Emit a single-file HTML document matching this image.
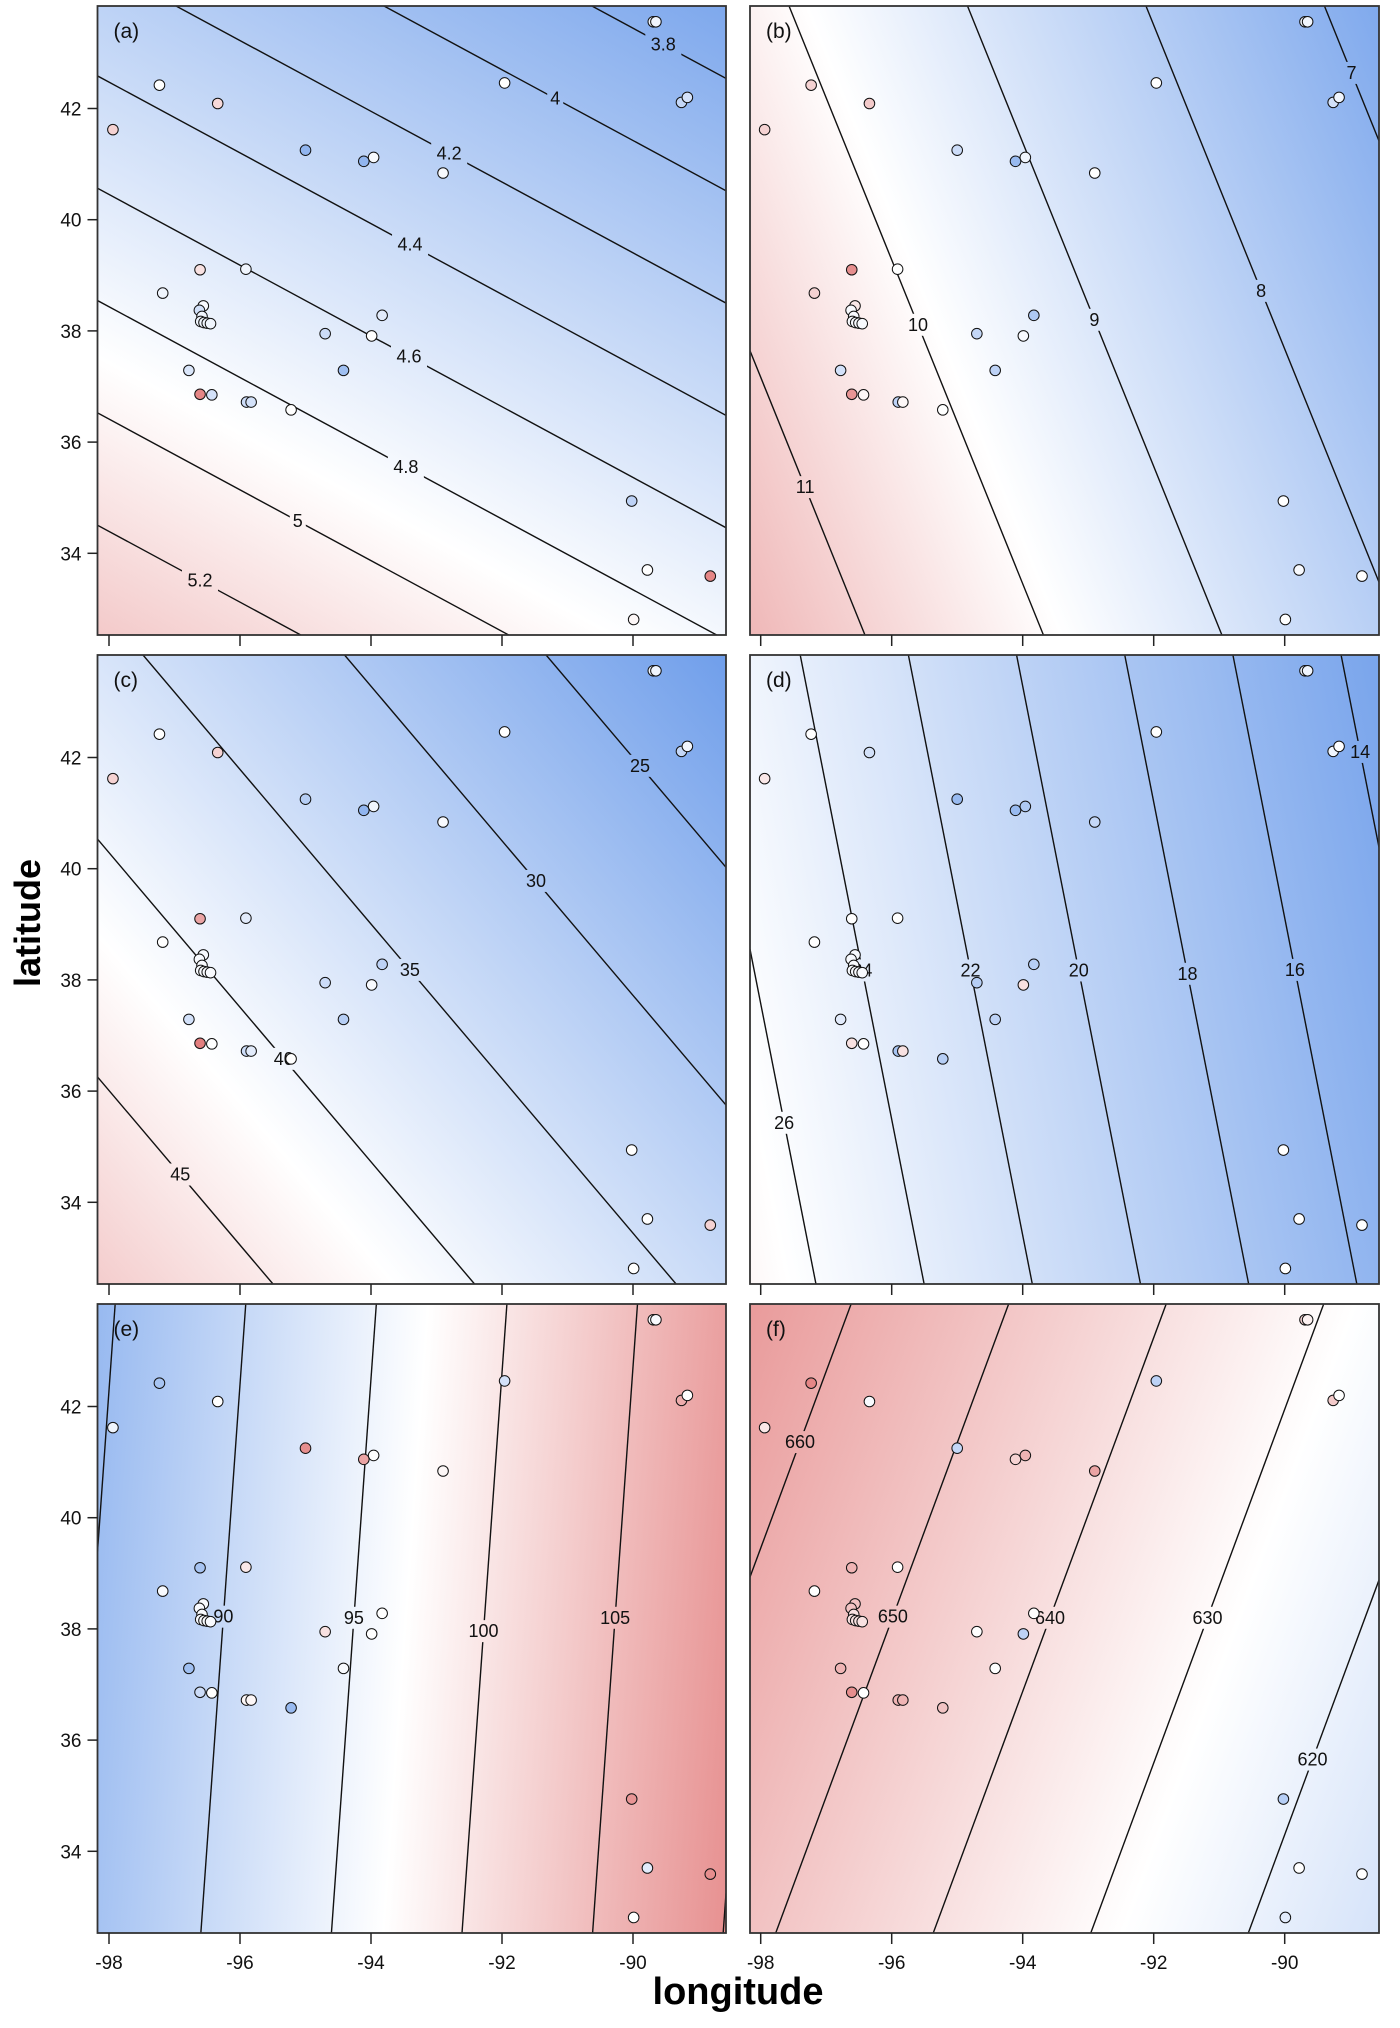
<!DOCTYPE html>
<html><head><meta charset="utf-8"><title>Spatial trend surfaces (a)-(f)</title>
<style>
html,body{margin:0;padding:0;background:#fff;width:1400px;height:2028px;overflow:hidden;}
svg{display:block;font-family:"Liberation Sans",Arial,sans-serif;overflow:hidden;}
</style></head>
<body>
<svg id="chart" width="1400" height="2028" viewBox="0 0 1400 2028" xmlns="http://www.w3.org/2000/svg">
<defs id="defs"></defs>
<g id="root"></g>
<text x="738" y="2004" text-anchor="middle" font-size="38" font-weight="bold">longitude</text>
<text transform="translate(40,923) rotate(-90)" text-anchor="middle" font-size="36" font-weight="bold">latitude</text>
</svg>
<script>
// station locations
const stationLon=[-89.69,-89.65,-97.23,-96.34,-97.94,-95.00,-94.11,-93.96,-92.90,-91.96,-89.26,-89.17,-96.61,-95.91,-97.18,-96.56,-96.62,-96.58,-96.60,-96.55,-96.50,-96.45,-93.83,-94.70,-93.99,-96.78,-94.42,-96.61,-96.43,-95.90,-95.83,-95.22,-90.02,-89.78,-88.82,-89.99];
const stationLat=[43.56,43.56,42.42,42.09,41.62,41.25,41.05,41.12,40.84,42.46,42.11,42.20,39.10,39.11,38.68,38.45,38.37,38.26,38.17,38.15,38.14,38.13,38.28,37.95,37.91,37.29,37.29,36.86,36.85,36.72,36.72,36.58,34.94,33.70,33.59,32.81];
// station tones per panel (-1 blue .. +1 red)
const toneA=[-0.1,-0.1,0,0.25,0.3,-0.75,-0.75,-0.05,-0.05,0,-0.4,-0.3,0.2,-0.1,-0.1,-0.05,-0.3,-0.1,-0.1,-0.1,-0.1,-0.1,-0.2,-0.35,0,-0.25,-0.65,0.8,-0.3,-0.35,-0.3,0,-0.45,0,0.8,0.05];
const toneB=[-0.1,-0.1,0.3,0.35,0.3,-0.35,-0.7,-0.1,0,0,-0.3,-0.1,0.75,0,0.3,0.15,-0.05,-0.05,-0.05,-0.05,-0.05,-0.05,-0.55,-0.4,-0.05,-0.3,-0.45,0.7,0.05,-0.45,0.05,0,0,-0.05,0,0];
const toneC=[-0.1,-0.1,0,0.3,0.3,-0.5,-0.75,-0.1,-0.05,0,-0.4,-0.1,0.6,-0.2,0,-0.05,-0.05,-0.05,-0.05,-0.05,-0.05,-0.05,-0.45,-0.35,-0.05,-0.3,-0.5,0.85,0,-0.35,-0.2,0,0,0,0.3,0];
const toneD=[-0.1,-0.1,0,-0.3,0.15,-0.7,-0.7,-0.55,-0.4,0,-0.1,0,0,0,0,-0.05,-0.05,-0.05,-0.05,-0.05,-0.05,-0.05,-0.5,-0.5,0.2,-0.2,-0.45,0.2,0,-0.6,0.2,-0.5,0,0,0,0];
const toneE=[-0.05,-0.05,-0.6,0,-0.1,0.75,0.6,0,0.05,-0.3,0.55,0,-0.6,0.15,-0.05,-0.05,-0.05,-0.05,-0.05,-0.05,-0.05,-0.05,0,0.2,0,-0.65,-0.05,-0.35,0,0.05,0.05,-0.7,0.7,-0.2,0.75,0];
const toneF=[0.3,0.1,0.8,-0.05,0.15,-0.4,0.3,0.5,0.6,-0.45,0.35,0,0.5,0,0,0.4,0.4,0.2,0.2,0.2,0.2,0.2,0,0,-0.45,0.5,0,0.75,0,0.5,0.5,0.4,-0.5,0,0,-0.2];
// contour levels and label latitudes (NaN = unlabeled)
const levelsA=[3.6,3.8,4,4.2,4.4,4.6,4.8,5,5.2,5.4];
const labelLatA=[NaN,43.15,42.18,41.19,39.55,37.54,35.55,34.58,33.51,NaN];
const levelsB=[6,7,8,9,10,11,12];
const labelLatB=[NaN,42.64,38.72,38.20,38.11,35.19,NaN];
const levelsC=[20,25,30,35,40,45,50];
const labelLatC=[NaN,41.85,39.78,38.18,36.58,34.50,NaN];
const levelsD=[12,14,16,18,20,22,24,26,28];
const labelLatD=[NaN,42.10,38.18,38.11,38.17,38.17,38.17,35.43,NaN];
const levelsE=[80,85,90,95,100,105,110,115];
const labelLatE=[NaN,NaN,38.22,38.20,37.96,38.20,NaN,NaN];
const levelsF=[610,620,630,640,650,660,670];
const labelLatF=[NaN,35.65,38.20,38.20,38.22,41.36,NaN];
// linear trend surface: value = v0 + b*(lon+94) + c*(lat-38)
const fieldA=[4.591,-0.063,-0.099];
const fieldB=[9.427,-0.367,-0.126];
const fieldC=[36.175,-1.625,-1.169];
const fieldD=[21.07,-1.211,-0.2025];
const fieldE=[95.684,2.508,-0.152];
const fieldF=[641.47,-4.158,1.307];
// colour scale: white value and half-span
const whiteVal=[4.9,9.9,42,26.5,97,628];
const spanVal=[1.4,3.7,22,14.5,18,58];
const xTicks=[-98,-96,-94,-92,-90];
const yTicks=[34,36,38,40,42];
const panelNames=['a','b','c','d','e','f'];

const NS='http://www.w3.org/2000/svg';
const defs=document.getElementById('defs');
const root=document.getElementById('root');
function mk(tag,attrs,parent){const e=document.createElementNS(NS,tag);for(const k in attrs)e.setAttribute(k,attrs[k]);(parent||root).appendChild(e);return e;}
const BLUE=[108,156,234],RED=[222,104,104];
function toneColor(t){t=Math.max(-1,Math.min(1,t));const c=t<0?BLUE:RED;const a=Math.abs(t);
  return 'rgb('+[0,1,2].map(i=>Math.round(255+(c[i]-255)*a)).join(',')+')';}

const panels=[
 {lv:levelsA,ll:labelLatA,f:fieldA,tone:toneA},
 {lv:levelsB,ll:labelLatB,f:fieldB,tone:toneB},
 {lv:levelsC,ll:labelLatC,f:fieldC,tone:toneC},
 {lv:levelsD,ll:labelLatD,f:fieldD,tone:toneD},
 {lv:levelsE,ll:labelLatE,f:fieldE,tone:toneE},
 {lv:levelsF,ll:labelLatF,f:fieldF,tone:toneF}];

const PXLON=65.5,PXLAT=55.6;
panels.forEach((p,i)=>{
  const col=i%2,row=Math.floor(i/2);
  const L=col===0?97.5:750,R=col===0?726:1379;
  const T=6+649*row,B=635+649*row;
  const x98=col===0?109:760.7, y42=108.5+649*row;
  const X=lon=>x98+(lon+98)*PXLON;
  const Y=lat=>y42+(42-lat)*PXLAT;
  const invX=x=>-98+(x-x98)/PXLON, invY=y=>42-(y-y42)/PXLAT;
  const [v0,b,c]=p.f;
  const val=(lon,lat)=>v0+b*(lon+94)+c*(lat-38);
  const id=panelNames[i];
  const g=mk('g',{});
  
  
  const cp=mk('clipPath',{id:'clip-'+id},defs);
  mk('rect',{x:L,y:T,width:R-L,height:B-T},cp);
  const cx=(L+R)/2,cy=(T+B)/2;
  const vc=val(invX(cx),invY(cy));
  const gx=b/PXLON,gy=-c/PXLAT,g2=gx*gx+gy*gy;
  const P=v=>[cx+(v-vc)*gx/g2,cy+(v-vc)*gy/g2];
  const w=whiteVal[i],s=spanVal[i];
  const p1=P(w-s),p2=P(w+s);
  const lg=mk('linearGradient',{id:'grad-'+id,gradientUnits:'userSpaceOnUse',x1:p1[0],y1:p1[1],x2:p2[0],y2:p2[1]},defs);
  mk('stop',{offset:0,'stop-color':toneColor(-1)},lg);
  mk('stop',{offset:0.5,'stop-color':'#ffffff'},lg);
  mk('stop',{offset:1,'stop-color':toneColor(1)},lg);
  const bg=mk('rect',{x:L,y:T,width:R-L,height:B-T,fill:'url(#grad-'+id+')'},g);
  
  
  const mask=mk('mask',{id:'mask-'+id,maskUnits:'userSpaceOnUse',x:L,y:T,width:R-L,height:B-T},defs);
  mk('rect',{x:L,y:T,width:R-L,height:B-T,fill:'#fff'},mask);
  const labels=[];
  p.lv.forEach((lev,k)=>{
    const la=p.ll[k];
    if(!isNaN(la)){
      const lo=-94+(lev-v0-c*(la-38))/b;
      const txt=String(lev);
      const tw=txt.length*10+6;
      mk('rect',{x:X(lo)-tw/2,y:Y(la)-11,width:tw,height:22,fill:'#000'},mask);
      labels.push([X(lo),Y(la),txt]);
    }
  });
  const lines=mk('g',{'clip-path':'url(#clip-'+id+')'},g);
  const lg2=mk('g',{mask:'url(#mask-'+id+')'},lines);
  const lonL=invX(L),lonR=invX(R),latT=invY(T),latB=invY(B);
  p.lv.forEach(lev=>{
    let plon,plat;
    if(Math.abs(b)>Math.abs(c)){plat=38;plon=-94+(lev-v0)/b;}else{plon=-94;plat=38+(lev-v0)/c;}
    const n=Math.hypot(b,c),dx=-c/n,dy=b/n;
    // clip parametric line to panel bounds
    let t0=-1e9,t1=1e9;
    const clip=(p0,d,lo,hi)=>{if(Math.abs(d)<1e-12){if(p0<lo||p0>hi){t0=1;t1=0;}return;}
      let a=(lo-p0)/d,bb=(hi-p0)/d;if(a>bb){const tmp=a;a=bb;bb=tmp;}t0=Math.max(t0,a);t1=Math.min(t1,bb);};
    clip(plon,dx,lonL,lonR);clip(plat,dy,latB,latT);
    if(t1<=t0)return;
    const ln=mk('line',{x1:X(plon+t0*dx),y1:Y(plat+t0*dy),x2:X(plon+t1*dx),y2:Y(plat+t1*dy),stroke:'#111','stroke-width':1.4},lg2);
    
    
  });
  labels.forEach(l=>{
    const t=mk('text',{x:l[0],y:l[1]+6,'text-anchor':'middle','font-size':18,fill:'#111'},lines);
    t.textContent=l[2];
    
    
  });
  stationLon.forEach((lo,k)=>{
    const pt=mk('circle',{cx:X(lo),cy:Y(stationLat[k]),r:5.3,fill:toneColor(p.tone[k]),stroke:'#111','stroke-width':1.0},lines);
    
    
  });
  const br=mk('rect',{x:L,y:T,width:R-L,height:B-T,fill:'none',stroke:'#333','stroke-width':1.8},g);
  
  
  const lt=mk('text',{x:L+16,y:T+32,'font-size':21,fill:'#111'},g);
  lt.textContent='('+id+')';
  
  
  xTicks.forEach(v=>{
    const tk=mk('line',{x1:X(v),y1:B,x2:X(v),y2:B+11,stroke:'#222','stroke-width':1.5},g);
    
    
    if(row===2){
      const tl=mk('text',{x:X(v),y:B+36,'text-anchor':'middle','font-size':19,fill:'#111'},g);
      tl.textContent=String(v);
      
      
    }
  });
  if(col===0){
    yTicks.forEach(v=>{
      const tk=mk('line',{x1:L-10,y1:Y(v),x2:L,y2:Y(v),stroke:'#222','stroke-width':1.5},g);
      
      
      const tl=mk('text',{x:L-16,y:Y(v)+7,'text-anchor':'end','font-size':19,fill:'#111'},g);
      tl.textContent=String(v);
      
      
    });
  }
});
</script>
</body></html>
